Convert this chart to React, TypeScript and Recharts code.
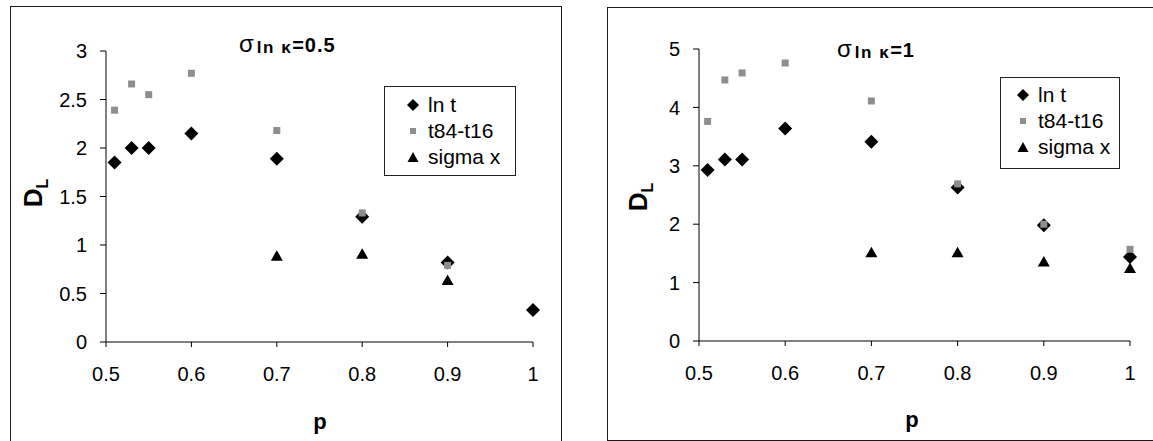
import { ScatterChart, Scatter, XAxis, YAxis, Legend } from "recharts";

// p values shared by the series
const pAll = [0.51, 0.53, 0.55, 0.6, 0.7, 0.8, 0.9, 1.0];
const pUpTo09 = [0.51, 0.53, 0.55, 0.6, 0.7, 0.8, 0.9];
const pSigmaLeft = [0.7, 0.8, 0.9];
const pSigmaRight = [0.7, 0.8, 0.9, 1.0];

// sigma ln K = 0.5
const lnTLeft = [1.85, 2.0, 2.0, 2.15, 1.89, 1.29, 0.82, 0.33];
const t84Left = [2.39, 2.66, 2.55, 2.77, 2.18, 1.33, 0.79];
const sigmaXLeft = [0.89, 0.91, 0.64];

// sigma ln K = 1
const lnTRight = [2.93, 3.11, 3.11, 3.64, 3.41, 2.63, 1.98, 1.44];
const t84Right = [3.76, 4.47, 4.59, 4.76, 4.11, 2.69, 2.0, 1.57];
const sigmaXRight = [1.52, 1.52, 1.36, 1.25];

const seriesNames = ["ln t", "t84-t16", "sigma x"];
const xTicks = [0.5, 0.6, 0.7, 0.8, 0.9, 1];
const yTicksLeft = [0, 0.5, 1, 1.5, 2, 2.5, 3];
const yTicksRight = [0, 1, 2, 3, 4, 5];

const FONT = "'Liberation Sans', Arial, sans-serif";
const GREY = "#8e8e8e";

const toPoints = (ps: number[], ds: number[]) => ps.map((p, i) => ({ p, d: ds[i] }));

const DiamondShape = (props: any) => {
  const { cx, cy } = props;
  const r = 7;
  return <polygon points={`${cx},${cy - r} ${cx + r},${cy} ${cx},${cy + r} ${cx - r},${cy}`} fill="#000" />;
};

const SquareShape = (props: any) => {
  const { cx, cy } = props;
  return <rect x={cx - 3.5} y={cy - 3.5} width={7} height={7} fill={GREY} />;
};

const TriangleShape = (props: any) => {
  const { cx, cy } = props;
  return <polygon points={`${cx},${cy - 5.5} ${cx + 6},${cy + 5} ${cx - 6},${cy + 5}`} fill="#000" />;
};

const LegendIcon = ({ type }: { type: string }) => (
  <svg width={14} height={14} style={{ display: "block" }}>
    {type === "diamond" && <polygon points="7,1 13,7 7,13 1,7" fill="#000" />}
    {type === "square" && <rect x={4} y={4} width={6} height={6} fill={GREY} />}
    {type === "triangle" && <polygon points="7,2 12.5,12 1.5,12" fill="#000" />}
  </svg>
);

const legendContent = (padTop: number, padLeft: number) => (props: any) => {
  const items = [...(props.payload || [])].sort(
    (a: any, b: any) => seriesNames.indexOf(a.value) - seriesNames.indexOf(b.value)
  );
  return (
    <div
      style={{
        boxSizing: "border-box",
        width: "100%",
        height: "100%",
        border: "1px solid #222",
        background: "#fff",
        paddingTop: padTop,
        paddingLeft: padLeft,
        fontFamily: FONT,
        fontSize: 21,
        color: "#000",
      }}
    >
      {items.map((entry: any) => (
        <div key={entry.value} style={{ display: "flex", alignItems: "center", height: 26 }}>
          <LegendIcon type={entry.type} />
          <span style={{ marginLeft: 8, lineHeight: "26px" }}>{entry.value}</span>
        </div>
      ))}
    </div>
  );
};

interface PanelProps {
  left: number;
  top: number;
  width: number;
  height: number;
  margin: { top: number; right: number; bottom: number; left: number };
  yMax: number;
  yTicks: number[];
  lnT: { p: number; d: number }[];
  t84: { p: number; d: number }[];
  sigmaX: { p: number; d: number }[];
  sigmaValue: string;
  title: { x: number; y: number };
  yLabel: { x: number; y: number };
  xLabel: { x: number; y: number };
  legend: { left: number; top: number; width: number; height: number; padTop: number; padLeft: number };
}

const Panel = (pp: PanelProps) => (
  <div
    style={{
      position: "absolute",
      left: pp.left - 1,
      top: pp.top - 1,
      width: pp.width,
      height: pp.height,
      border: "1px solid #1a1a1a",
      background: "#fff",
    }}
  >
    <ScatterChart width={pp.width} height={pp.height} margin={pp.margin} style={{ fontFamily: FONT }}>
      <XAxis
        type="number"
        dataKey="p"
        domain={[0.5, 1]}
        ticks={xTicks}
        height={60}
        tickSize={5}
        tickMargin={20}
        axisLine={{ stroke: "#000" }}
        tickLine={{ stroke: "#000" }}
        tick={{ fontSize: 20, fill: "#000" }}
        interval={0}
      />
      <YAxis
        type="number"
        dataKey="d"
        domain={[0, pp.yMax]}
        ticks={pp.yTicks}
        width={60}
        tickSize={6}
        tickMargin={13}
        axisLine={{ stroke: "#000" }}
        tickLine={{ stroke: "#000" }}
        tick={{ fontSize: 20, fill: "#000" }}
        interval={0}
      />
      <Scatter name={seriesNames[0]} data={pp.lnT} legendType="diamond" fill="#000" shape={DiamondShape} isAnimationActive={false} />
      <Scatter name={seriesNames[1]} data={pp.t84} legendType="square" fill={GREY} shape={SquareShape} isAnimationActive={false} />
      <Scatter name={seriesNames[2]} data={pp.sigmaX} legendType="triangle" fill="#000" shape={TriangleShape} isAnimationActive={false} />
      <Legend
        layout="vertical"
        align="center"
        verticalAlign="middle"
        content={legendContent(pp.legend.padTop, pp.legend.padLeft)}
        wrapperStyle={{
          left: pp.legend.left,
          top: pp.legend.top,
          width: pp.legend.width,
          height: pp.legend.height,
        }}
      />
    </ScatterChart>
    <div
      style={{
        position: "absolute",
        left: pp.title.x,
        top: pp.title.y,
        fontFamily: FONT,
        fontWeight: "bold",
        whiteSpace: "nowrap",
        lineHeight: 1,
      }}
    >
      <span style={{ fontSize: 24, fontWeight: "normal" }}>σ</span>
      <span style={{ fontSize: 17, marginLeft: 3, letterSpacing: 1.5, position: "relative", top: 1 }}>ln κ</span>
      <span style={{ fontSize: 20, letterSpacing: 1 }}>={pp.sigmaValue}</span>
    </div>
    <div
      style={{
        position: "absolute",
        left: pp.yLabel.x,
        top: pp.yLabel.y,
        transform: "translate(-50%, -50%) rotate(-90deg)",
        fontFamily: FONT,
        fontWeight: "bold",
        fontSize: 26,
        whiteSpace: "nowrap",
        lineHeight: 1,
      }}
    >
      D<span style={{ fontSize: 16, position: "relative", top: 6 }}>L</span>
    </div>
    <div
      style={{
        position: "absolute",
        left: pp.xLabel.x,
        top: pp.xLabel.y,
        transform: "translate(-50%, -50%)",
        fontFamily: FONT,
        fontWeight: "bold",
        fontSize: 22,
        lineHeight: 1,
      }}
    >
      p
    </div>
  </div>
);

export default function App() {
  return (
    <div style={{ position: "absolute", left: 0, top: 0, width: 1153, height: 441, overflow: "hidden", background: "#fff" }}>
      <Panel
        left={11}
        top={7}
        width={550}
        height={436}
        margin={{ top: 44, right: 28, bottom: 41, left: 35 }}
        yMax={3}
        yTicks={yTicksLeft}
        lnT={toPoints(pAll, lnTLeft)}
        t84={toPoints(pUpTo09, t84Left)}
        sigmaX={toPoints(pSigmaLeft, sigmaXLeft)}
        sigmaValue="0.5"
        title={{ x: 228, y: 25 }}
        yLabel={{ x: 22, y: 186 }}
        xLabel={{ x: 309, y: 415 }}
        legend={{ left: 373, top: 79, width: 132, height: 90, padTop: 5, padLeft: 21 }}
      />
      <Panel
        left={608}
        top={8}
        width={552}
        height={432}
        margin={{ top: 41, right: 30, bottom: 39, left: 31 }}
        yMax={5}
        yTicks={yTicksRight}
        lnT={toPoints(pAll, lnTRight)}
        t84={toPoints(pAll, t84Right)}
        sigmaX={toPoints(pSigmaRight, sigmaXRight)}
        sigmaValue="1"
        title={{ x: 229, y: 29 }}
        yLabel={{ x: 30, y: 189 }}
        xLabel={{ x: 304, y: 412 }}
        legend={{ left: 392, top: 69, width: 120, height: 92, padTop: 4, padLeft: 15 }}
      />
    </div>
  );
}
